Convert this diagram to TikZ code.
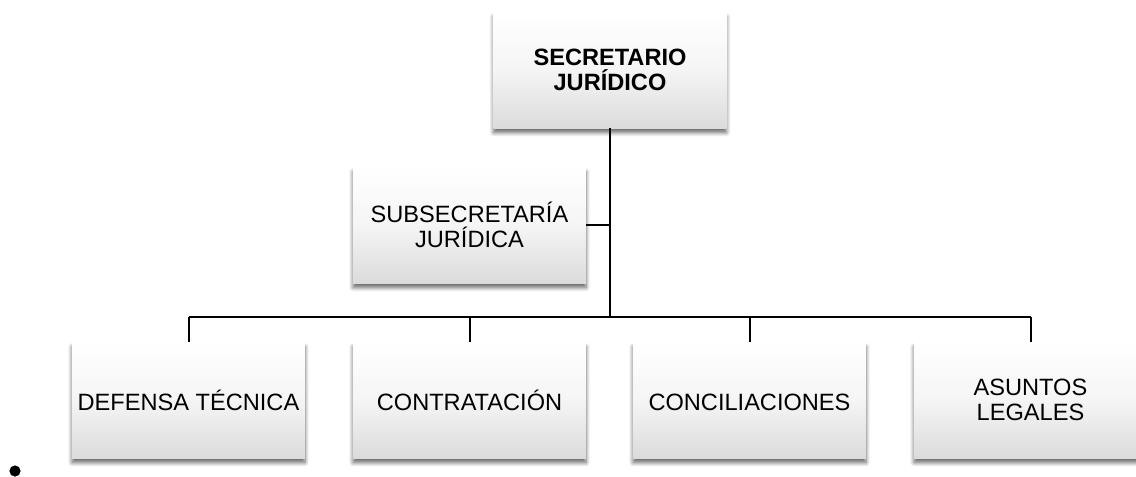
\documentclass[tikz,border=0pt]{standalone}
\usepackage{fontspec}
\setmainfont{Liberation Sans}
\usetikzlibrary{calc,shadows.blur}

\begin{document}
\begin{tikzpicture}[x=0.75pt,y=-0.75pt,
		unit/.style={minimum width=174.75pt,minimum height=87pt,inner sep=2pt,align=center,
			font=\fontsize{17.7}{19.3}\selectfont,
			top color=white,bottom color=black!14,middle color=white!96!black,
			blur shadow={shadow xshift=0pt,shadow yshift=-3.5pt,shadow blur radius=3pt,
				shadow blur steps=6,shadow opacity=60}},
		head/.style={unit,font=\fontsize{17.7}{19.3}\selectfont\bfseries},
		link/.style={line width=1.5pt}]
			\useasboundingbox (0,0) rectangle (1136,476);
			
			% Chief and deputy
			\node[head] (sec) at (610,70) {SECRETARIO\\JURÍDICO};
			\node[unit] (sub) at (469.5,225) {SUBSECRETARÍA\\JURÍDICA};
			
			% Offices
			\node[unit] (defensa) at (188.5,400) {\vphantom{É}DEFENSA TÉCNICA};
			\node[unit] (contratacion) at (469.5,400) {\vphantom{É}CONTRATACIÓN};
			\node[unit] (conciliaciones) at (749.5,400) {\vphantom{É}CONCILIACIONES};
			\node[unit] (asuntos) at (1030.5,400) {ASUNTOS\\LEGALES};
			
			% Bus line
			\coordinate (bus) at (608,317);
			\draw[link] (sec.south) -- (sec.south |- bus);
			\draw[link] (sub.east) -- (sub.east -| sec.south);
			\draw[link] (defensa.north |- bus) -- (asuntos.north |- bus);
			\foreach \n in {defensa,contratacion,conciliaciones,asuntos}{
				\draw[link] (\n.north |- bus) -- (\n.north);
			}
			
			% Stray bullet
			\fill (15,471) circle (4.2pt);
			
		\end{tikzpicture}
\end{document}
